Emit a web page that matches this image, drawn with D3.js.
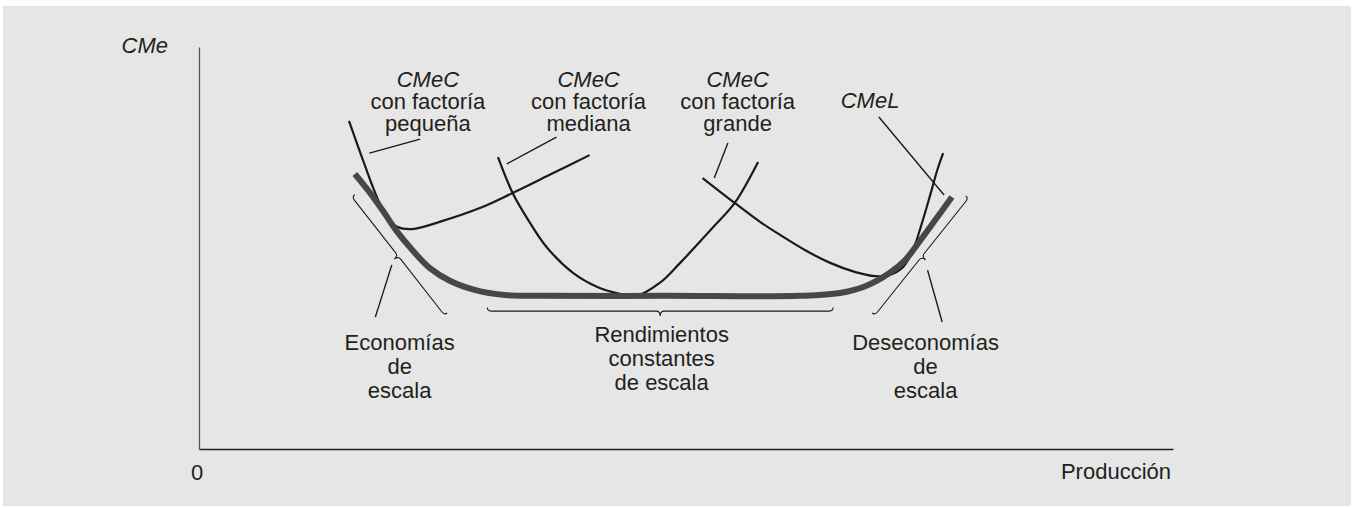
<!DOCTYPE html>
<html>
<head>
<meta charset="utf-8">
<script src="https://cdn.jsdelivr.net/npm/d3@7"></script>
<style>
  html, body { margin: 0; padding: 0; background: #ffffff; }
  svg { display: block; }
  text { font-family: "Liberation Sans", Arial, Helvetica, sans-serif; fill: #231f20; }
</style>
</head>
<body>
<svg id="chart" width="1354" height="507"></svg>
<script>
// ---- Data (Producción q, CMe c in 0..100 units) ----
const cmecSmall = [[15.4,81.6],[16.9,71.4],[18.4,61.9],[19.4,57.5],[20.4,55.2],[21.9,54.7],[24.7,56.5],[28.9,60.0],[32.2,63.7],[36.0,68.2],[40.1,73.1]];
const cmecMedium = [[30.7,72.6],[32.2,63.7],[34.0,56.2],[35.7,50.2],[38.4,43.8],[40.9,40.3],[43.2,38.6],[44.9,38.1],[47.3,41.3],[49.4,46.3],[52.8,55.2],[55.0,61.2],[57.4,71.4]];
const cmecLarge = [[51.7,67.4],[55.0,61.2],[57.6,56.5],[59.7,53.2],[62.2,49.5],[64.8,46.3],[67.4,44.0],[69.4,43.0],[70.9,43.3],[72.3,45.3],[73.3,49.5],[74.1,55.2],[75.1,63.4],[75.8,69.4],[76.4,73.6]];
const cmel = [[16.0,68.4],[17.5,63.9],[18.9,59.2],[20.3,54.2],[21.9,49.5],[23.7,45.0],[25.8,41.8],[28.3,39.6],[31.4,38.3],[35.0,38.1],[48.0,38.1],[61.7,38.1],[65.8,38.8],[68.4,40.5],[70.9,43.8],[72.5,47.0],[74.0,51.7],[75.6,57.0],[77.3,62.7]];

// Braces: [start, end] in data units; tip side sign
const braces = [
  { a: [15.7,62.7], b: [25.2,33.3], side: -1 },
  { a: [29.6,34.3], b: [65.1,34.3], side: -1 },
  { a: [69.4,33.3], b: [79.0,62.4], side: -1 }
];

// Leader lines
const leaders = [
  [[17.5,73.6],[22.7,77.1]],
  [[31.6,70.9],[36.7,77.6]],
  [[52.9,67.4],[54.3,76.1]],
  [[69.8,82.6],[76.5,63.2]],
  [[19.8,45.8],[18.1,32.8]],
  [[74.8,44.5],[76.3,31.6]]
];

// Labels: position (center, first baseline) and lines [text, italic]
const labels = [
  { at: [23.5,90.0], gap: 22, lines: [["CMeC",true],["con factoría",false],["pequeña",false]] },
  { at: [40.0,90.0], gap: 22, lines: [["CMeC",true],["con factoría",false],["mediana",false]] },
  { at: [55.3,90.0], gap: 22, lines: [["CMeC",true],["con factoría",false],["grande",false]] },
  { at: [68.9,84.8], gap: 22, lines: [["CMeL",true]] },
  { at: [20.6,24.6], gap: 24, lines: [["Economías",false],["de",false],["escala",false]] },
  { at: [47.5,26.6], gap: 24, lines: [["Rendimientos",false],["constantes",false],["de escala",false]] },
  { at: [74.6,24.6], gap: 24, lines: [["Deseconomías",false],["de",false],["escala",false]] }
];

const yAxisLabel = "CMe";
const xAxisLabel = "Producción";
const originLabel = "0";

// ---- Scales ----
const svg = d3.select("#chart");
const W = 1354, H = 507;
const x = d3.scaleLinear().domain([0,100]).range([199,1173]);
const y = d3.scaleLinear().domain([0,100]).range([449,47]);

svg.append("rect").attr("x",3).attr("y",6).attr("width",W-6).attr("height",H-7).attr("fill","#e6e6e6");

// Axes
svg.append("g").attr("transform",`translate(${x(0)},0)`)
  .call(d3.axisLeft(y).tickValues([]).tickSizeOuter(0))
  .select(".domain").attr("stroke","#555").attr("stroke-width",1.3);
svg.append("g").attr("transform",`translate(0,${y(0)})`)
  .call(d3.axisBottom(x).tickValues([]).tickSizeOuter(0))
  .select(".domain").attr("stroke","#222").attr("stroke-width",1.3);

svg.append("text").attr("x",x(0)-2).attr("y",y(0)+31).attr("text-anchor","middle")
  .style("font-size","22px").text(originLabel);
svg.append("text").attr("x",x(100)-2).attr("y",y(0)+30).attr("text-anchor","end")
  .style("font-size","22px").text(xAxisLabel);
svg.append("text").attr("x",x(0)-31).attr("y",y(100)+6).attr("text-anchor","end")
  .style("font-size","22px").style("font-style","italic").text(yAxisLabel);

// Curves
const line = d3.line().x(d => x(d[0])).y(d => y(d[1])).curve(d3.curveCatmullRom.alpha(0.5));
[cmecSmall, cmecMedium, cmecLarge].forEach(pts => {
  svg.append("path").attr("d", line(pts)).attr("fill","none")
    .attr("stroke","#1a1a1a").attr("stroke-width",2.2).attr("stroke-linecap","butt");
});
svg.append("path").attr("d", line(cmel)).attr("fill","none")
  .attr("stroke","#474747").attr("stroke-width",6).attr("stroke-linecap","butt");

// Leaders
leaders.forEach(l => {
  svg.append("line").attr("x1",x(l[0][0])).attr("y1",y(l[0][1]))
    .attr("x2",x(l[1][0])).attr("y2",y(l[1][1]))
    .attr("stroke","#1a1a1a").attr("stroke-width",1.4);
});

// Braces
function bracePath(a, b, h, r, dpt, side) {
  const dx = b[0]-a[0], dy = b[1]-a[1];
  const L = Math.hypot(dx, dy);
  const u = [dx/L, dy/L];
  // normal pointing to tip side (side=-1 => rotate so tip goes "down/outward")
  let n = [-u[1], u[0]];
  // choose normal with positive y (downward on screen) for tip
  if (n[1] < 0) { n = [-n[0], -n[1]]; }
  const m = [(a[0]+b[0])/2, (a[1]+b[1])/2];
  const P = (p, v, k) => [p[0]+v[0]*k, p[1]+v[1]*k];
  const s = (p) => p[0].toFixed(2)+","+p[1].toFixed(2);
  const a0 = P(a, n, -h), a1 = P(a, u, r);
  const m0 = P(m, u, -r), tip = P(m, n, dpt), m1 = P(m, u, r);
  const b1 = P(b, u, -r), b0 = P(b, n, -h);
  return `M${s(a0)}Q${s(a)} ${s(a1)}L${s(m0)}Q${s(m)} ${s(tip)}Q${s(m)} ${s(m1)}L${s(b1)}Q${s(b)} ${s(b0)}`;
}
braces.forEach(br => {
  const a = [x(br.a[0]), y(br.a[1])], b = [x(br.b[0]), y(br.b[1])];
  svg.append("path").attr("d", bracePath(a, b, 3.5, 4, 5, br.side))
    .attr("fill","none").attr("stroke","#1a1a1a").attr("stroke-width",1.1);
});

// Labels
labels.forEach(lb => {
  lb.lines.forEach((ln, i) => {
    svg.append("text").attr("x", x(lb.at[0])).attr("y", y(lb.at[1]) + i*lb.gap)
      .attr("text-anchor","middle").style("font-size","22px")
      .style("font-style", ln[1] ? "italic" : "normal").text(ln[0]);
  });
});
</script>
</body>
</html>
